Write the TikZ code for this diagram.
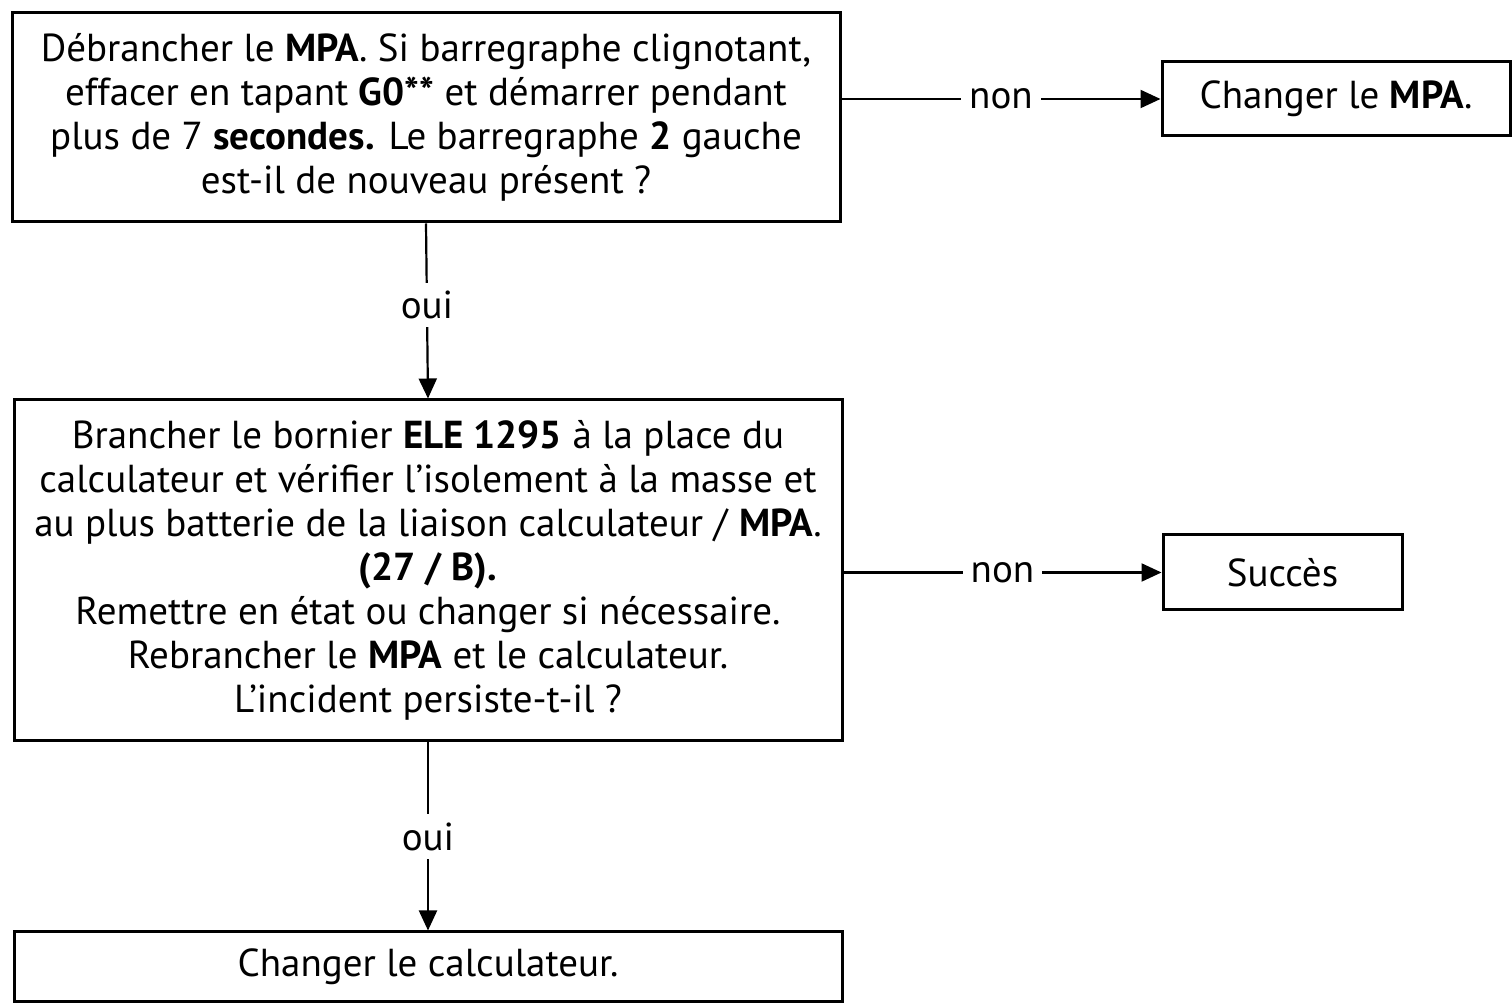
\documentclass[tikz,border=0pt]{standalone}
\usepackage{fontspec}
\setmainfont{PT Sans}
\usetikzlibrary{arrows.meta}
\begin{document}
\begin{tikzpicture}[x=0.5pt,y=-0.5pt,
  box/.style={draw=black,line width=1.5pt,inner sep=0pt,align=center,
    font=\fontsize{19.5}{22}\selectfont},
  lbl/.style={fill=white,inner sep=4pt,font=\fontsize{19.5}{22}\selectfont},
  conn/.style={draw=black,line width=1.1pt},
  tip/.style={-{Triangle[length=10pt,width=9pt]}}]
\useasboundingbox (0,0) rectangle (1512,1004);
\begin{scope}
\clip (0,0) rectangle (1512,1004);
\node[box,minimum width=414pt,minimum height=104.5pt] (q1) at (426,117.5)
  {Débrancher le \textbf{MPA}. Si barregraphe clignotant,\\
   effacer en tapant \textbf{G0**} et démarrer pendant\\
   plus de 7 \textbf{secondes.} Le barregraphe \textbf{2} gauche\\
   est-il de nouveau présent ?};
\node[box,minimum width=174pt,minimum height=37pt] (mpa) at (1336,99)
  {Changer le \textbf{MPA}.};
\node[box,minimum width=414pt,minimum height=170.5pt] (q2) at (428,570.5)
  {Brancher le bornier \textbf{ELE 1295} à la place du\\
   calculateur et vérifier l’isolement à la masse et\\
   au plus batterie de la liaison calculateur / \textbf{MPA}.\\
   \textbf{(27 / B).}\\
   Remettre en état ou changer si nécessaire.\\
   Rebrancher le \textbf{MPA} et le calculateur.\\
   L’incident persiste-t-il ?};
\node[box,minimum width=119.5pt,minimum height=37.5pt] (ok) at (1282.5,572.5) {Succès};
\node[box,minimum width=414pt,minimum height=35pt] (calc) at (428,967)
  {Changer le calculateur.};
\end{scope}
% connectors
\draw[conn,tip] (q1.east |- mpa.west) -- node[lbl]{non} (mpa.west);
\draw[conn,tip] (q2.east |- ok.west) -- node[lbl]{non} (ok.west);
\draw[conn,tip] (q1.south) -- node[lbl,yshift=3pt]{oui} (q2.north);
\draw[conn,tip] (q2.south) -- node[lbl]{oui} (calc.north);
\end{tikzpicture}
\end{document}
